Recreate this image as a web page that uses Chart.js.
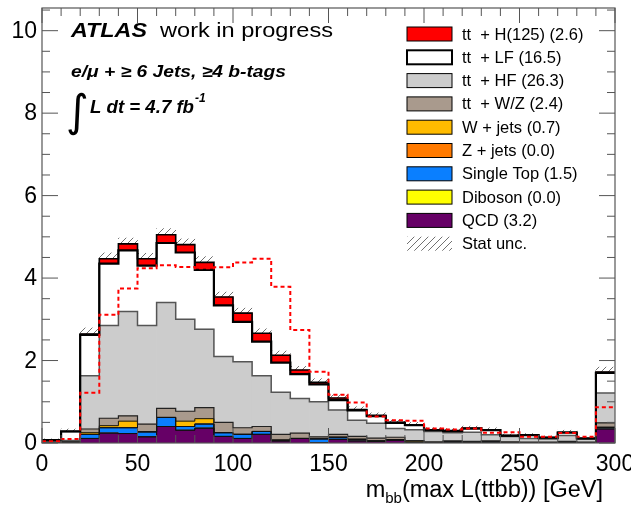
<!DOCTYPE html>
<html>
<head>
<meta charset="utf-8">
<script src="https://cdn.jsdelivr.net/npm/chart.js@4.4.1/dist/chart.umd.min.js"></script>
<style>
  html, body { margin: 0; padding: 0; background: #fff; }
  #wrap { width: 631px; height: 509px; }
</style>
</head>
<body>
<div id="wrap"><canvas id="c" width="631" height="509"></canvas></div>
<script>
// m_bb histogram, 10 GeV bins, lower bin edges
var binLow = [0, 10, 20, 30, 40, 50, 60, 70, 80, 90, 100, 110, 120, 130, 140,
              150, 160, 170, 180, 190, 200, 210, 220, 230, 240, 250, 260, 270, 280, 290];
var binWidth = 10;

// background and signal samples, stacked bottom to top
var qcd       = [0.03, 0.02, 0.11, 0.24, 0.23, 0.15, 0.40, 0.31, 0.36, 0.16, 0.11, 0.21, 0.05, 0.11, 0.01,
                 0.09, 0.05, 0.04, 0.07, 0.00, 0.00, 0.00, 0.00, 0.00, 0.00, 0.00, 0.00, 0.01, 0.00, 0.34];
var diboson   = [0, 0, 0, 0, 0, 0, 0, 0, 0, 0, 0, 0, 0, 0, 0,
                 0, 0, 0, 0, 0, 0, 0, 0, 0, 0, 0, 0, 0, 0, 0];
var singleTop = [0.00, 0.00, 0.10, 0.13, 0.14, 0.12, 0.22, 0.09, 0.10, 0.09, 0.10, 0.07, 0.02, 0.00, 0.09,
                 0.05, 0.04, 0.01, 0.01, 0.00, 0.00, 0.03, 0.00, 0.03, 0.00, 0.00, 0.00, 0.00, 0.00, 0.04];
var zJets     = [0, 0, 0, 0, 0, 0, 0, 0, 0, 0, 0, 0, 0, 0, 0,
                 0, 0, 0, 0, 0, 0, 0, 0, 0, 0, 0, 0, 0, 0, 0];
var wJets     = [0.00, 0.00, 0.04, 0.05, 0.16, 0.00, 0.00, 0.13, 0.13, 0.00, 0.00, 0.00, 0.00, 0.00, 0.00,
                 0.00, 0.00, 0.00, 0.00, 0.03, 0.00, 0.00, 0.00, 0.00, 0.00, 0.00, 0.00, 0.00, 0.00, 0.00];
var ttVZ      = [0.00, 0.00, 0.09, 0.18, 0.13, 0.19, 0.22, 0.24, 0.27, 0.25, 0.16, 0.12, 0.14, 0.13, 0.05,
                 0.07, 0.07, 0.07, 0.06, 0.03, 0.03, 0.02, 0.04, 0.02, 0.03, 0.02, 0.02, 0.03, 0.02, 0.11];
var ttHF      = [0.00, 0.04, 1.29, 2.25, 2.53, 2.39, 2.57, 2.23, 1.90, 1.60, 1.60, 1.23, 1.02, 0.84, 0.85,
                 0.59, 0.39, 0.36, 0.21, 0.26, 0.25, 0.20, 0.22, 0.15, 0.13, 0.09, 0.08, 0.14, 0.08, 0.72];
var ttLF      = [0.04, 0.22, 0.99, 1.50, 1.48, 1.45, 1.44, 1.62, 1.44, 1.24, 0.97, 0.83, 0.72, 0.59, 0.42,
                 0.24, 0.24, 0.17, 0.14, 0.11, 0.03, 0.04, 0.09, 0.11, 0.02, 0.08, 0.03, 0.07, 0.01, 0.49];
var ttH       = [0.00, 0.00, 0.02, 0.12, 0.16, 0.17, 0.20, 0.19, 0.18, 0.20, 0.21, 0.20, 0.18, 0.10, 0.05,
                 0.05, 0.02, 0.02, 0.01, 0.01, 0.01, 0.01, 0.01, 0.01, 0.00, 0.00, 0.00, 0.01, 0.00, 0.02];

// ttH shape normalised to the total background (dashed)
var ttHShape  = [0.04, 0.10, 1.22, 3.11, 3.75, 4.24, 4.31, 4.27, 4.24, 4.26, 4.38, 4.47, 3.79, 2.74, 1.73,
                 1.17, 0.98, 0.64, 0.55, 0.54, 0.35, 0.33, 0.35, 0.25, 0.26, 0.15, 0.15, 0.24, 0.15, 0.87];

// statistical uncertainty on the total
var statUnc   = [0.03, 0.06, 0.15, 0.14, 0.14, 0.13, 0.15, 0.14, 0.14, 0.12, 0.12, 0.11, 0.10, 0.09, 0.09,
                 0.08, 0.07, 0.06, 0.06, 0.06, 0.05, 0.05, 0.05, 0.05, 0.04, 0.04, 0.04, 0.05, 0.04, 0.12];

var xTicks = [0, 50, 100, 150, 200, 250, 300];
var yTicks = [0, 2, 4, 6, 8, 10];
var yMax = 10.55;

var FONT = '"Liberation Sans", Arial, Helvetica, sans-serif';

var layers = [
    { label: 'QCD (3.2)',           data: qcd,       fill: '#660066', line: '#111', lw: 1 },
    { label: 'Diboson (0.0)',       data: diboson,   fill: '#ffff00', line: '#111', lw: 1 },
    { label: 'Single Top (1.5)',    data: singleTop, fill: '#0a7fff', line: '#111', lw: 1 },
    { label: 'Z + jets (0.0)',      data: zJets,     fill: '#ff7a00', line: '#111', lw: 1 },
    { label: 'W + jets (0.7)',      data: wJets,     fill: '#ffbb00', line: '#111', lw: 1 },
    { label: 'tt  + W/Z (2.4)',     data: ttVZ,      fill: '#a99a8d', line: '#222', lw: 1.2 },
    { label: 'tt  + HF (26.3)',     data: ttHF,      fill: '#cccccc', line: '#555', lw: 1.5 },
    { label: 'tt  + LF (16.5)',     data: ttLF,      fill: '#ffffff', line: '#000', lw: 2.2 },
    { label: 'tt  + H(125) (2.6)',  data: ttH,       fill: '#ff0000', line: '#000', lw: 1.6 }
];

var canvas = document.getElementById('c');
var ctx = canvas.getContext('2d');

// sparse diagonal hatching for the stat. uncertainty band
function makeHatch() {
    var n = 7;
    var c = document.createElement('canvas');
    c.width = n; c.height = n;
    var g = c.getContext('2d');
    g.strokeStyle = '#333';
    g.lineWidth = 0.7;
    g.beginPath();
    g.moveTo(0, n); g.lineTo(n, 0);
    g.moveTo(-1, 1); g.lineTo(1, -1);
    g.moveTo(n - 1, n + 1); g.lineTo(n + 1, n - 1);
    g.stroke();
    return ctx.createPattern(c, 'repeat');
}
var hatch = makeHatch();

// cumulative tops of each layer
var tops = [];
var run = binLow.map(function () { return 0; });
layers.forEach(function (l) {
    run = run.map(function (v, i) { return v + l.data[i]; });
    tops.push(run.slice());
});
var total = tops[tops.length - 1];

function centers(vals) {
    return binLow.map(function (x, i) { return { x: x + binWidth / 2, y: vals[i] }; });
}
function steps(vals) {
    var pts = binLow.map(function (x, i) { return { x: x, y: vals[i] }; });
    pts.push({ x: binLow[binLow.length - 1] + binWidth, y: vals[vals.length - 1] });
    return pts;
}

var datasets = [];

layers.forEach(function (l, k) {
    datasets.push({
        type: 'bar', data: centers(l.data), backgroundColor: l.fill, borderWidth: 0,
        grouped: false, stack: 'bkg', yAxisID: 'y', order: 20 + k,
        barPercentage: 1, categoryPercentage: 1
    });
});

datasets.push({
    type: 'bar',
    data: binLow.map(function (x, i) {
        return { x: x + binWidth / 2, y: [total[i] - statUnc[i], total[i] + statUnc[i]] };
    }),
    backgroundColor: hatch, borderWidth: 0, grouped: false, yAxisID: 'yl', order: 40,
    barPercentage: 1, categoryPercentage: 1
});

layers.forEach(function (l, k) {
    datasets.push({
        type: 'line', data: steps(tops[k]), borderColor: l.line, borderWidth: l.lw,
        stepped: true, pointRadius: 0, fill: false, yAxisID: 'yl', order: 15 - k
    });
});

datasets.push({
    type: 'line', data: steps(ttHShape), borderColor: '#ff0000', borderWidth: 2,
    borderDash: [4, 3], stepped: true, pointRadius: 0, fill: false, yAxisID: 'yl', order: 1
});

function seg(x1, y1, x2, y2) {
    ctx.beginPath(); ctx.moveTo(x1, y1); ctx.lineTo(x2, y2); ctx.stroke();
}

// draw text squeezed or stretched to a given width
function fitText(c, str, x, y, width) {
    var w = c.measureText(str).width;
    c.save();
    c.translate(x, y);
    c.scale(width / w, 1);
    c.fillText(str, 0, 0);
    c.restore();
}

var decor = {
    id: 'decor',
    afterDraw: function (chart) {
        var c = chart.ctx, ca = chart.chartArea;
        var xs = chart.scales.x, ys = chart.scales.y;
        c.save();

        // frame and inward ticks
        c.strokeStyle = '#555';
        c.lineWidth = 1.2;
        c.strokeRect(ca.left, ca.top, ca.right - ca.left, ca.bottom - ca.top);
        c.lineWidth = 1;
        for (var v = 0; v <= yMax; v += 0.5) {
            var py = ys.getPixelForValue(v);
            var len = (v % 2 === 0) ? 16 : 8;
            seg(ca.left, py, ca.left + len, py);
            seg(ca.right, py, ca.right - len, py);
        }
        for (var t = 0; t <= 300; t += 10) {
            var px = xs.getPixelForValue(t);
            var l2 = (t % 50 === 0) ? 15 : 8;
            seg(px, ca.bottom, px, ca.bottom - l2);
            seg(px, ca.top, px, ca.top + l2);
        }

        // tick labels
        c.fillStyle = '#000';
        c.font = '23px ' + FONT;
        c.textAlign = 'right';
        c.textBaseline = 'middle';
        yTicks.forEach(function (v) { c.fillText(String(v), ca.left - 5, ys.getPixelForValue(v) + 1); });
        c.textAlign = 'center';
        c.textBaseline = 'alphabetic';
        xTicks.forEach(function (v) { c.fillText(String(v), xs.getPixelForValue(v), 471); });

        // axis title
        c.textAlign = 'left';
        var big = '23.5px ' + FONT, small = '15px ' + FONT;
        c.font = big; var wm = c.measureText('m').width;
        c.font = small; var wb = c.measureText('bb').width;
        c.font = big; var wr = c.measureText('(max L(ttbb)) [GeV]').width;
        var x0 = 603 - (wm + wb + wr);
        c.font = big; c.fillText('m', x0, 497);
        c.font = small; c.fillText('bb', x0 + wm, 503);
        c.font = big; c.fillText('(max L(ttbb)) [GeV]', x0 + wm + wb, 497);

        // labels
        c.font = 'italic bold 21px ' + FONT;
        fitText(c, 'ATLAS', 71, 37, 76);
        c.font = '21px ' + FONT;
        fitText(c, 'work in progress', 160, 37, 173);
        c.font = 'italic bold 16px ' + FONT;
        fitText(c, 'e/\u03bc + \u2265 6 Jets, \u22654 b-tags', 71, 77, 215);
        c.font = '44px "DejaVu Sans"';
        c.fillText('\u222b', 66, 126);
        c.font = 'italic bold 18px ' + FONT;
        fitText(c, 'L dt = 4.7 fb', 90, 113, 104);
        c.font = 'italic bold 12px ' + FONT;
        c.fillText('-1', 195, 102);

        // legend
        var rows = layers.slice().reverse();
        var rowY = 34, rowStep = 23.3;
        c.font = '16.5px ' + FONT;
        c.textBaseline = 'middle';
        rows.forEach(function (l, i) {
            var yy = rowY + i * rowStep;
            c.fillStyle = l.fill;
            c.fillRect(407, yy - 7, 45, 14);
            c.strokeStyle = '#000';
            c.lineWidth = (l.fill === '#ffffff') ? 2 : 1;
            c.strokeRect(407, yy - 7, 45, 14);
            c.fillStyle = '#000';
            c.fillText(l.label, 462, yy + 1);
        });
        var ys2 = rowY + rows.length * rowStep;
        c.fillStyle = hatch;
        c.fillRect(407, ys2 - 7, 45, 14);
        c.fillStyle = '#000';
        c.fillText('Stat unc.', 462, ys2 + 1);

        c.restore();
    }
};

new Chart(ctx, {
    data: { datasets: datasets },
    options: {
        responsive: false,
        animation: false,
        devicePixelRatio: 1,
        events: [],
        layout: { padding: { left: 42, right: 16, top: 8, bottom: 66 } },
        plugins: { legend: { display: false }, tooltip: { enabled: false } },
        scales: {
            x: { type: 'linear', min: 0, max: 300, offset: false, display: false },
            y: { type: 'linear', min: 0, max: yMax, stacked: true, display: false },
            yl: { type: 'linear', min: 0, max: yMax, stacked: false, display: false }
        }
    },
    plugins: [decor]
});
</script>
</body>
</html>
